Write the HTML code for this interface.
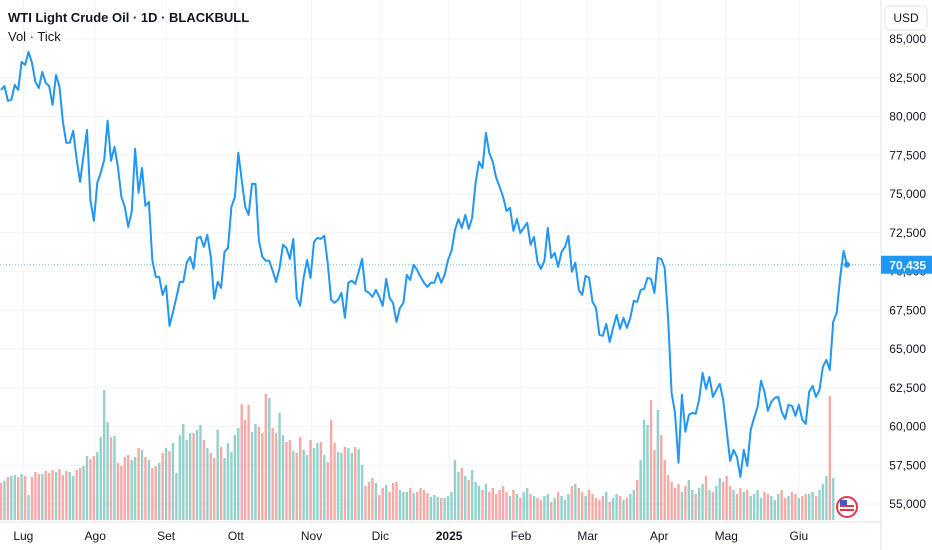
<!DOCTYPE html>
<html><head><meta charset="utf-8"><style>
body{margin:0;background:#fff;font-family:"Liberation Sans",sans-serif;}
#wrap{position:relative;width:932px;height:550px;overflow:hidden;}
svg text{font-family:"Liberation Sans",sans-serif;}
</style></head><body>
<div id="wrap">
<svg id="chart" width="932" height="550"></svg>
</div>
<script>
const priceTicks=[85000,82500,80000,77500,75000,72500,70000,67500,65000,62500,60000,57500,55000];
const tickLabels=["85,000","82,500","80,000","77,500","75,000","72,500","70,000","67,500","65,000","62,500","60,000","57,500","55,000"];
const monthLabels=["Lug","Ago","Set","Ott","Nov","Dic","2025","Feb","Mar","Apr","Mag","Giu"];
const monthIndex=[6.5,27.4,48,68.3,90.3,110.3,130.3,151.2,170.6,191.4,210.9,232];
const closes=[81710,81970,81010,81070,82040,81710,83520,83330,84170,83460,82230,81840,82880,82170,81970,80750,82680,81910,79650,78300,78300,79070,77200,75780,77450,79130,74620,73270,75720,76360,77200,79720,77140,78040,76750,74810,74170,72880,73850,77910,75070,76680,74230,74490,70750,69650,69650,68490,69070,66490,67400,68330,69330,69330,70560,70940,70170,72170,72230,71590,72360,70940,68230,69330,68940,71270,71520,74170,74810,77650,75910,74170,73650,75650,75650,71980,70940,70690,70690,70040,69330,70230,71720,71520,70810,72100,
68300,67780,69590,70750,69590,71910,72170,72100,72300,70560,68170,67980,68170,68620,67010,69270,69400,69200,69980,70810,68750,68620,68360,68810,68360,67780,69520,68300,67980,66750,67650,67980,69780,69460,70430,70100,69650,69270,69010,69270,69270,69910,69270,69780,70750,71330,72680,73390,72810,73650,72750,73460,75720,77070,76680,78940,77650,77070,76040,75460,74810,73910,74100,72620,73390,72490,72810,73140,71720,72230,70620,70170,70690,72810,70880,71200,70300,71270,71590,72300,69980,
70560,68810,68490,69720,69590,68040,67650,65910,65850,66620,65460,66360,67200,66300,67010,66360,67010,68110,68040,68810,68880,69590,69520,68620,70880,70810,70230,66880,62170,60880,57660,62040,59660,60750,60880,60820,61720,63460,62430,63200,61910,62360,62750,61720,59780,57790,58490,58040,56750,58490,57460,59780,60560,61270,62950,62240,61010,61590,61850,61910,60950,60490,61400,61330,60690,61400,60430,60170,62240,62620,61910,62360,63850,64300,63650,66750,67330,69590,71330,70435];
const volumes=[37,39,43,44,45,43,46,44,25,43,48,46,46,49,47,50,48,51,45,49,48,44,50,52,54,64,61,64,68,83,130,98,83,84,57,54,63,65,60,63,72,70,63,60,52,54,57,67,72,69,77,47,85,96,80,87,87,90,95,80,72,67,62,90,73,62,77,68,85,92,116,100,115,88,96,93,87,126,122,92,87,107,85,78,80,69,67,83,70,65,80,72,77,78,65,58,100,77,68,67,73,72,67,73,71,55,34,38,42,37,25,32,35,28,37,38,30,28,28,32,27,28,32,30,27,23,25,23,22,
22,24,28,60,48,52,44,40,50,38,34,30,36,28,32,26,30,34,28,24,30,26,22,28,32,26,24,22,20,24,26,18,22,28,24,20,26,34,36,32,28,24,30,26,22,20,24,28,18,22,26,24,20,22,26,30,40,60,100,95,120,70,110,85,60,45,38,32,36,28,34,40,30,26,32,36,44,30,28,34,42,38,44,34,30,26,32,28,30,24,26,30,22,28,26,24,20,26,30,22,24,28,26,22,24,26,26,28,24,30,36,44,124,42];

const NS="http://www.w3.org/2000/svg";
const svg=document.getElementById('chart');
function mk(t,a,p){const e=document.createElementNS(NS,t);for(const k in a)e.setAttribute(k,a[k]);(p||svg).appendChild(e);return e;}
const n=closes.length;
const step=846/(n-1);
function xS(i){return 1+i*step;}
function yS(v){return 39+(85000-v)*0.0155;}
function yV(v){return 520-v;}

// grid
const grid=mk('g',{});


priceTicks.forEach(t=>{mk('line',{x1:0,x2:881,y1:yS(t),y2:yS(t),stroke:'#f0f3fa','stroke-width':1},grid);});
monthIndex.forEach(i=>{mk('line',{x1:xS(i),x2:xS(i),y1:0,y2:522,stroke:'#f0f3fa','stroke-width':1},grid);});

// volume
const vg=mk('g',{});


for(let i=0;i<n&&i<volumes.length;i++){
  const up=i===0?false:closes[i]>=closes[i-1];
  const r=mk('rect',{x:xS(i)-1.2,y:yV(volumes[i]),width:2.4,height:volumes[i],fill:up?'rgba(38,166,154,0.5)':'rgba(239,83,80,0.5)'},vg);
  
  
}

// last price line
const lp=mk('line',{x1:0,x2:881,y1:yS(closes[n-1]),y2:yS(closes[n-1]),stroke:'#2196f3','stroke-width':1,'stroke-dasharray':'1 2',opacity:0.7});



// price line
let d='';
closes.forEach((v,i)=>{d+=(i?'L':'M')+xS(i).toFixed(1)+' '+yS(v).toFixed(1);});
const pl=mk('path',{d:d,fill:'none',stroke:'#2196f3','stroke-width':2,'stroke-linejoin':'round'});


const dot=mk('circle',{cx:xS(n-1),cy:yS(closes[n-1]),r:3,fill:'#2196f3'});



// flag icon
const fg=mk('g',{});


mk('circle',{cx:847,cy:507,r:10,fill:'#fff',stroke:'#e8344a','stroke-width':2},fg);
mk('rect',{x:840,y:505,width:14,height:2,fill:'#e8344a'},fg);
mk('rect',{x:840,y:509,width:14,height:2,fill:'#e8344a'},fg);
mk('rect',{x:840,y:500,width:7,height:5,fill:'#3a5bbf'},fg);

// axes
const ax=mk('line',{x1:881,x2:881,y1:0,y2:550,stroke:'#e0e3eb','stroke-width':1});


const bx=mk('line',{x1:0,x2:881,y1:522,y2:522,stroke:'#e0e3eb','stroke-width':1});



const yg=mk('g',{});


priceTicks.forEach((t,k)=>{const e=mk('text',{x:926,y:yS(t)+4,'text-anchor':'end','font-size':12,fill:'#131722'},yg);e.textContent=tickLabels[k];
 
 });
const xg=mk('g',{});


monthLabels.forEach((m,k)=>{const e=mk('text',{x:xS(monthIndex[k]),y:540,'text-anchor':'middle','font-size':12,fill:'#131722','font-weight':m==='2025'?'bold':'normal'},xg);e.textContent=m;
 
 });

// last price badge
const bg=mk('g',{});


mk('rect',{x:881,y:yS(closes[n-1])-9,width:51,height:18,fill:'#2196f3'},bg);
const bt=mk('text',{x:926,y:yS(closes[n-1])+4.5,'text-anchor':'end','font-size':12,fill:'#fff','font-weight':'bold'},bg);
bt.textContent=(closes[n-1]).toLocaleString('en-US');

// USD button
const ug=mk('g',{});


mk('rect',{x:885,y:6,width:42,height:24,rx:4,fill:'#fff',stroke:'#e0e3eb'},ug);
const ut=mk('text',{x:906,y:22,'text-anchor':'middle','font-size':12,fill:'#131722'},ug);ut.textContent='USD';

// title
const tt=mk('text',{x:8,y:22,'font-size':13,'font-weight':'bold',fill:'#131722'});
tt.textContent='WTI Light Crude Oil · 1D · BLACKBULL';


const vt=mk('text',{x:8,y:41,'font-size':13,fill:'#131722'});
vt.textContent='Vol · Tick';


</script>
</body></html>
